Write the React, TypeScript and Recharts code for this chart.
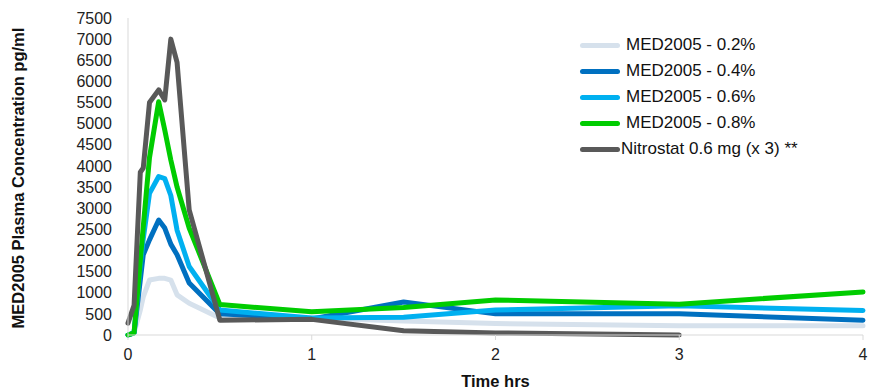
import { LineChart, Line, XAxis, YAxis, Label } from 'recharts';

const times = [0, 0.033, 0.067, 0.083, 0.117, 0.167, 0.2, 0.233, 0.267, 0.333, 0.5, 1, 1.5, 2, 3, 4];
const med02 = [0, 50, 590, 900, 1300, 1340, 1340, 1300, 950, 750, 400, 400, 330, 270, 220, 220];
const med04 = [0, 50, 1300, 1900, 2250, 2720, 2530, 2150, 1900, 1230, 500, 380, 780, 500, 500, 350];
const med06 = [0, 50, 1680, 2270, 3350, 3750, 3700, 3300, 2480, 1620, 590, 400, 420, 590, 690, 580];
const med08 = [0, 50, 1770, 2560, 4200, 5520, 4850, 4140, 3500, 2530, 720, 550, 650, 830, 730, 1020];
const nitro = [280, 700, 3850, 3950, 5500, 5800, 5560, 7000, 6450, 2960, 350, 370, 100, 50, 0, null];

const seriesNames = ['MED2005 - 0.2%', 'MED2005 - 0.4%', 'MED2005 - 0.6%', 'MED2005 - 0.8%', 'Nitrostat 0.6 mg (x 3) **'];
const seriesKeys = ['med02', 'med04', 'med06', 'med08', 'nitro'];
const seriesColors = ['#D6E1EC', '#0070C0', '#00B0F0', '#00CC00', '#595959'];

const xTicks = [0, 1, 2, 3, 4];
const yTicks = [0, 500, 1000, 1500, 2000, 2500, 3000, 3500, 4000, 4500, 5000, 5500, 6000, 6500, 7000, 7500];

const data = times.map((t, i) => ({
  t,
  med02: med02[i],
  med04: med04[i],
  med06: med06[i],
  med08: med08[i],
  nitro: nitro[i],
}));

const font = '"Liberation Sans", Arial, sans-serif';

export default function App() {
  return (
    <div style={{ position: 'absolute', left: 0, top: 0, width: 875, height: 390, background: '#fff', fontFamily: font }}>
      <LineChart width={875} height={390} data={data} margin={{ top: 18, right: 12, bottom: 0, left: 0 }}>
        <XAxis
          dataKey="t"
          type="number"
          domain={[0, 4]}
          ticks={xTicks}
          stroke="#D9D9D9"
          tickSize={5}
          tickMargin={9}
          height={55}
          tick={{ fill: '#222', fontSize: 16, fontFamily: font }}
        >
          <Label
            value="Time hrs"
            position="insideBottom"
            offset={3}
            style={{ fill: '#111', fontSize: 16.5, fontWeight: 'bold', fontFamily: font }}
          />
        </XAxis>
        <YAxis
          domain={[0, 7500]}
          ticks={yTicks}
          interval={0}
          width={128}
          stroke="#D9D9D9"
          tickLine={false}
          tickSize={6}
          tickMargin={10}
          tick={{ fill: '#222', fontSize: 16, fontFamily: font }}
        >
          <Label
            content={() => (
              <text
                x={18}
                y={178}
                transform="rotate(-90 18 178)"
                textAnchor="middle"
                dominantBaseline="central"
                style={{ fill: '#111', fontSize: 16.5, fontWeight: 'bold', fontFamily: font }}
              >
                MED2005 Plasma Concentration pg/ml
              </text>
            )}
          />
        </YAxis>
        {seriesKeys.map((k, i) => (
          <Line
            key={k}
            type="linear"
            dataKey={k}
            name={seriesNames[i]}
            stroke={seriesColors[i]}
            strokeWidth={5}
            strokeLinejoin="round"
            strokeLinecap="round"
            dot={false}
            isAnimationActive={false}
          />
        ))}
      </LineChart>
      <div style={{ position: 'absolute', left: 580, top: 32, width: 290 }}>
        {seriesNames.map((n, i) => (
          <div key={n} style={{ display: 'flex', alignItems: 'center', height: 26 }}>
            <div style={{ width: 40, height: 5, borderRadius: 3, background: seriesColors[i], marginRight: i === 4 ? 1 : 6 }} />
            <span style={{ fontSize: 17, color: '#111', whiteSpace: 'nowrap' }}>{n}</span>
          </div>
        ))}
      </div>
    </div>
  );
}
